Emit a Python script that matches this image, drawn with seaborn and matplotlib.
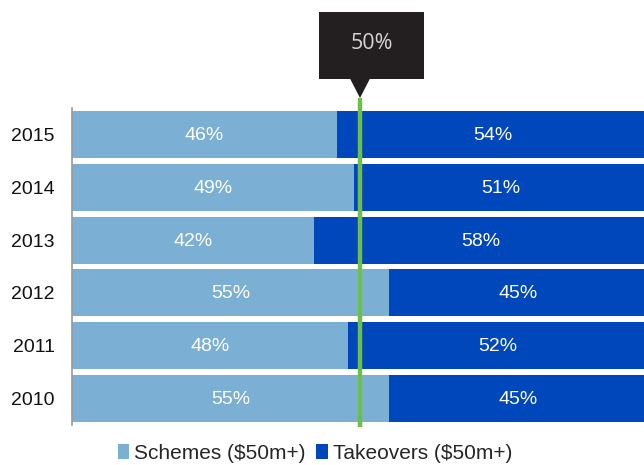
import matplotlib
matplotlib.use("Agg")
import matplotlib.pyplot as plt
from matplotlib.patches import Patch, Polygon, Rectangle
import seaborn as sns
import pandas as pd

# Share of $50m+ control transactions by structure
years = ["2015", "2014", "2013", "2012", "2011", "2010"]
schemes = [46, 49, 42, 55, 48, 55]
takeovers = [54, 51, 58, 45, 52, 45]
series_names = ["Schemes ($50m+)", "Takeovers ($50m+)"]
threshold = 50

light_blue = "#7BAFD4"
dark_blue = "#0047BB"
green = "#6CC04A"
callout_bg = "#231F20"

sns.set_theme(style="white")
plt.rcParams["font.family"] = ["Liberation Sans", "DejaVu Sans"]

df = pd.DataFrame({"year": years, "schemes": schemes, "takeovers": takeovers})
df["total"] = df["schemes"] + df["takeovers"]

fig = plt.figure(figsize=(6.44, 4.65), dpi=100)
ax = fig.add_axes([72 / 644, 1 - 425 / 465, 576 / 644, 317 / 465])

# Full-width takeovers bar underneath, schemes share layered on top
sns.barplot(data=df, x="total", y="year", order=years, color=dark_blue,
            width=0.887, saturation=1, ax=ax, orient="y", linewidth=0)
sns.barplot(data=df, x="schemes", y="year", order=years, color=light_blue,
            width=0.887, saturation=1, ax=ax, orient="y", linewidth=0)

ax.set_xlim(0, 100)
ax.set_ylim(5.5, -0.5)
ax.set_xlabel("")
ax.set_ylabel("")
ax.set_xticks([])
ax.tick_params(axis="y", length=0, pad=12.5, labelsize=14, labelcolor="#111111")

for side in ["top", "right", "bottom"]:
    ax.spines[side].set_visible(False)
ax.spines["left"].set_color("#9a9a9a")
ax.spines["left"].set_linewidth(1.2)

# Segment value labels
for i, (s, t) in enumerate(zip(schemes, takeovers)):
    ax.text(s / 2, i + 0.02, f"{s}%", ha="center", va="center",
            color="white", fontsize=14)
    ax.text(s + t / 2, i + 0.02, f"{t}%", ha="center", va="center",
            color="white", fontsize=14)

# 50% reference line
ax.plot([threshold, threshold], [-0.69, 5.54], color=green, lw=3.2,
        clip_on=False, zorder=5, solid_capstyle="butt")

# Callout box above the reference line
box_l, box_r = 319 / 644, 424 / 644
box_b, box_t = 1 - 79 / 465, 1 - 12 / 465
fig.patches.append(Rectangle((box_l, box_b), box_r - box_l, box_t - box_b,
                             transform=fig.transFigure, facecolor=callout_bg,
                             edgecolor="none", zorder=0))
tip_x = 360 / 644
fig.patches.append(Polygon([(350 / 644, box_b + 0.001), (370 / 644, box_b + 0.001),
                            (tip_x, 1 - 98 / 465)],
                           closed=True, transform=fig.transFigure,
                           facecolor=callout_bg, edgecolor="none", zorder=0))
fig.text((box_l + box_r) / 2, (box_b + box_t) / 2 + 0.004, f"{threshold}%",
         ha="center", va="center", color="#d4d4d4", fontsize=15.5,
         family=["Open Sans", "DejaVu Sans"], zorder=10)

# Legend
handles = [Patch(facecolor=light_blue, edgecolor="none"),
           Patch(facecolor=dark_blue, edgecolor="none")]
fig.legend(handles, series_names, loc="center", bbox_to_anchor=(315 / 644, 1 - 453 / 465),
           ncol=2, frameon=False, fontsize=15, handlelength=0.55, handleheight=0.7,
           handletextpad=0.25, columnspacing=0.5)

fig.savefig("out.png", dpi=100)
